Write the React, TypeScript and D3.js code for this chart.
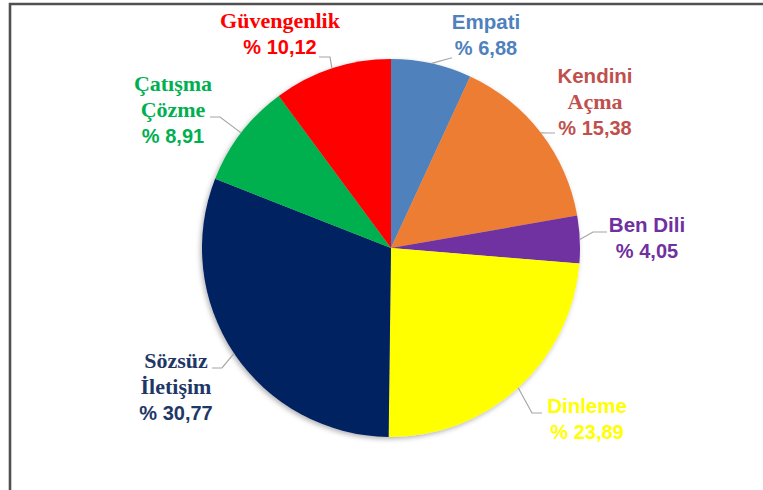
import React from "react";
import * as d3 from "d3";

const categories = ["Empati", "Kendini Açma", "Ben Dili", "Dinleme", "Sözsüz İletişim", "Çatışma Çözme", "Güvengenlik"];
const values = [6.88, 15.38, 4.05, 23.89, 30.77, 8.91, 10.12];
const valueLabels = ["% 6,88", "% 15,38", "% 4,05", "% 23,89", "% 30,77", "% 8,91", "% 10,12"];
const sliceColors = ["#4F81BD", "#ED7D31", "#7030A0", "#FFFF00", "#002060", "#00B050", "#FF0000"];
const labelColors = ["#4F81BD", "#C0504D", "#7030A0", "#FFFF00", "#1F3766", "#00B050", "#FF0000"];

// label lines: text + font family kind
const labelLines: { t: string; serif: boolean }[][] = [
  [{ t: "Empati", serif: false }],
  [{ t: "Kendini", serif: false }, { t: "Açma", serif: true }],
  [{ t: "Ben Dili", serif: false }],
  [{ t: "Dinleme", serif: false }],
  [{ t: "Sözsüz", serif: true }, { t: "İletişim", serif: true }],
  [{ t: "Çatışma", serif: true }, { t: "Çözme", serif: true }],
  [{ t: "Güvengenlik", serif: true }],
];

// annotation layout: text centre x, first baseline y, leader elbow & end
const labelLayout = [
  { x: 486, y: 29, lead: [[451, 58], [452, 58]] },
  { x: 595, y: 83, lead: [[548, 133], [555, 133]] },
  { x: 647, y: 232, lead: [[593, 232], [607, 232]] },
  { x: 587, y: 413, lead: [[532, 413], [542, 413]] },
  { x: 176, y: 368, lead: [[222, 368], [212, 368]] },
  { x: 173, y: 117 - 26, lead: [[220, 117], [210, 117]] },
  { x: 280, y: 28, lead: [[330, 57], [319, 57]] },
];

const W = 763, H = 490;
const cx = 391, cy = 248, R = 189;
const SANS = "'Liberation Sans', Arial, sans-serif";
const SERIF = "'Liberation Serif', 'Times New Roman', serif";

export default function App() {
  const pie = d3.pie<number>().sort(null).value((d) => d)(values);
  const arc = d3.arc<d3.PieArcDatum<number>>().innerRadius(0).outerRadius(R);
  const lineH = 26;
  return (
    <svg width={W} height={H} style={{ position: "absolute", left: 0, top: 0, background: "#fff" }}>
      <defs>
        <filter id="sh" x="-20%" y="-20%" width="140%" height="140%">
          <feDropShadow dx="-1.5" dy="2" stdDeviation="2.5" floodColor="#000" floodOpacity="0.3" />
        </filter>
      </defs>
      <path d={`M10,${H} V4 H${W}`} fill="none" stroke="#505050" strokeWidth={2.6} />
      <g transform={`translate(${cx},${cy})`} filter="url(#sh)">
        {pie.map((p, i) => (
          <path key={i} d={arc(p) || ""} fill={sliceColors[i]} />
        ))}
      </g>
      {pie.map((p, i) => {
        const a = (p.startAngle + p.endAngle) / 2;
        const sx = cx + R * Math.sin(a);
        const sy = cy - R * Math.cos(a);
        const L = labelLayout[i];
        const pts = [[sx, sy], ...L.lead];
        const lines = labelLines[i];
        return (
          <g key={"l" + i}>
            <polyline points={pts.map((q) => q.join(",")).join(" ")} fill="none" stroke="#A6A6A6" strokeWidth={1.2} />
            {lines.map((ln, j) => (
              <text key={j} x={L.x} y={L.y + j * lineH} textAnchor="middle" fill={labelColors[i]}
                fontFamily={ln.serif ? SERIF : SANS} fontWeight="bold" fontSize={ln.serif ? 22 : 20.5}>
                {ln.t}
              </text>
            ))}
            <text x={L.x} y={L.y + lines.length * lineH} textAnchor="middle" fill={labelColors[i]}
              fontFamily={SANS} fontWeight="bold" fontSize={20}>
              {valueLabels[i]}
            </text>
          </g>
        );
      })}
    </svg>
  );
}
